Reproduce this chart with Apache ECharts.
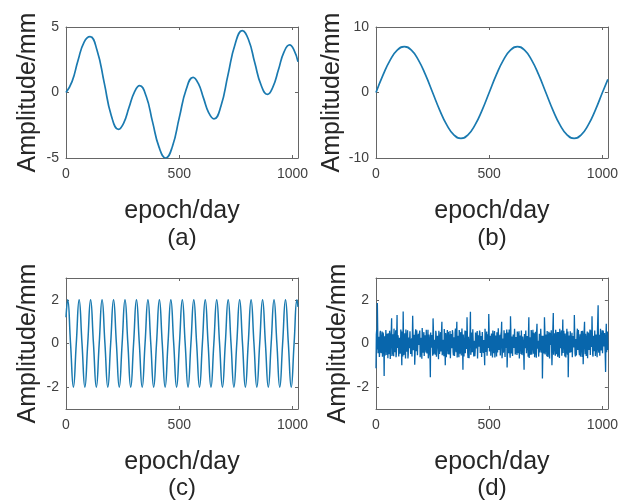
<!DOCTYPE html>
<html>
<head>
<meta charset="utf-8">
<script src="https://cdn.jsdelivr.net/npm/echarts@6/dist/echarts.min.js"></script>
<style>html,body{margin:0;padding:0;background:#fff;}#c{width:621px;height:503px;}</style>
</head>
<body>
<div id="c"></div>
<script>
// ---- data ----
const xTicks = [0, 500, 1000];
const yTicksA = [-5, 0, 5];
const yTicksB = [-10, 0, 10];
const yTicksC = [-2, 0, 2];
const yTicksD = [-2, 0, 2];
const panelLabels = ['(a)', '(b)', '(c)', '(d)'];
const xName = 'epoch/day';
const yName = 'Amplitude/mm';

// (a) combined signal
const daysA = [0, 27, 53, 80, 106, 137, 169, 200, 232, 255, 278, 302, 325, 354, 382, 411, 440, 470, 500, 531, 561, 584, 607, 630, 653, 684, 715, 747, 778, 806, 833, 861, 889, 913, 938, 962, 987, 1005, 1024];
const valsA = [0, 0.85, 2.45, 3.85, 4.26, 3.22, 0.72, -1.77, -2.81, -2.32, -1.15, 0.03, 0.52, -0.29, -2.24, -4.19, -5.0, -4.1, -1.92, 0.26, 1.16, 0.69, -0.43, -1.55, -2.02, -1.03, 1.35, 3.73, 4.72, 4.01, 2.29, 0.57, -0.14, 0.41, 1.75, 3.08, 3.63, 3.3, 2.35];

// (b) long-period sine, sampled every 31.25 days, last at 1024
const stepB = 31.25;
const valsB = [0, 2.68, 4.95, 6.47, 7, 6.47, 4.95, 2.68, 0, -2.68, -4.95, -6.47, -7, -6.47, -4.95, -2.68,
               0, 2.68, 4.95, 6.47, 7, 6.47, 4.95, 2.68, 0, -2.68, -4.95, -6.47, -7, -6.47, -4.95, -2.68, 0];
const lastDayB = 1024, lastValB = 2.0;

// (c) short-period sine: first point at day 0, then every 12.65 days from day 7.4, last at 1024
const firstC = 1.2;
const startC = 7.4, stepC = 12.65;
const valsC = [2,0,-2,0, 2,0,-2,0, 2,0,-2,0, 2,0,-2,0, 2,0,-2,0, 2,0,-2,0, 2,0,-2,0, 2,0,-2,0, 2,0,-2,0, 2,0,-2,0,
               2,0,-2,0, 2,0,-2,0, 2,0,-2,0, 2,0,-2,0, 2,0,-2,0, 2,0,-2,0, 2,0,-2,0, 2,0,-2,0, 2,0,-2,0, 2,0,-2,0, 2];
const lastDayC = 1024, lastValC = 1.68;

// (d) noise: valsD at days 0,3,6,...; valsD2 at days 1.5,4.5,...
const stepD = 3;
const valsD = [
-1.13,0.62,1.85,-0.45,0.31,-0.62,0.48,0.12,-0.38,0.55,-0.21,0.35,-1.49,0.42,-0.15,0.66,-0.52,0.08,0.47,
-0.33,0.58,-0.71,0.24,1.16,-0.44,0.19,-0.58,0.37,-0.09,0.61,-0.47,1.31,-0.26,0.43,-0.65,0.14,-0.36,0.52,
-1.0,0.29,1.46,-0.53,0.18,-0.41,0.64,-0.12,0.39,-0.69,0.27,-0.22,0.56,-0.48,0.11,-0.6,1.27,-0.31,0.2,
-0.97,0.45,-0.16,0.6,-0.54,0.33,-0.07,0.49,-0.63,0.26,-0.34,0.71,-0.42,0.15,-0.57,0.38,-0.19,0.63,-0.46,
0.22,-0.68,0.41,-0.27,-1.55,0.54,-0.13,0.35,1.15,-0.5,0.17,-0.39,0.58,-0.61,0.09,0.44,-0.72,0.3,-0.2,
0.52,-0.43,1.0,-0.35,0.21,-0.58,0.4,-1.0,0.33,-0.11,0.62,-0.49,0.14,-0.3,0.57,-0.66,0.25,-0.08,0.47,
-0.55,0.36,-0.24,0.69,-0.4,1.0,-0.32,0.18,-0.63,0.45,-0.17,0.53,-0.47,0.28,-1.2,0.39,-0.06,0.6,-0.52,
0.23,1.2,-0.44,0.31,-0.67,0.12,1.45,-0.38,0.5,-0.25,0.65,-0.59,0.2,-0.35,0.42,-0.14,0.57,-0.7,0.27,
-0.21,0.48,-0.51,0.34,-0.1,0.61,-0.43,0.16,-1.0,0.4,-0.28,0.55,-0.6,0.24,1.35,-0.37,0.13,-0.56,0.46,
-0.18,0.59,-0.45,0.29,-0.64,0.37,-0.09,0.52,-0.41,0.7,-0.3,0.2,-0.55,0.43,1.0,-0.48,0.26,-0.16,0.58,
-0.62,0.35,-0.23,-1.1,0.5,-0.12,0.64,-0.39,1.25,-0.46,0.19,-0.57,0.41,-0.2,0.67,-0.5,0.3,-0.08,0.55,
-0.44,0.22,-0.69,0.36,-0.15,0.6,-0.53,0.32,0.1,-1.2,0.47,-0.27,0.58,-0.4,0.14,-0.61,1.2,-0.33,0.25,
-0.52,0.44,-0.11,0.63,-0.47,0.21,-0.36,0.54,-0.65,0.9,-0.29,0.17,-0.58,0.4,-0.19,0.66,-0.42,-1.6,0.35,
-0.24,1.2,-0.5,0.28,-0.13,0.57,-0.62,0.33,-0.37,0.49,-0.07,0.61,-1.0,0.23,1.4,-0.45,0.18,-0.56,0.42,
-0.2,0.53,-0.48,0.3,-0.66,0.38,-0.1,0.6,-0.35,1.1,-0.43,0.16,-0.59,0.45,-0.26,0.68,-0.51,-1.55,0.37,
-0.14,0.56,-0.4,0.25,-0.63,0.34,-0.06,1.3,-0.46,0.2,-0.55,0.48,-0.3,0.62,-0.38,0.13,-0.6,0.43,-0.22,
0.58,-0.95,0.31,1.0,-0.49,0.19,-0.34,0.55,-0.61,0.27,-0.12,0.64,-0.44,0.22,1.25,-0.5,0.36,-0.17,0.59,
-0.57,0.41,-0.28,0.52,1.75,-0.42,0.24,-0.64,0.39,-0.09,0.61,-0.47,0.3,-0.2,0.5,-1.3,0.9,-0.35,0.4
];
const valsD2 = [
0.41,-0.28,0.7,-0.52,0.19,-0.36,0.58,-0.44,0.27,-0.61,0.5,-0.17,0.33,-0.55,0.62,-0.3,0.45,-0.68,0.21,
-0.49,0.36,-0.12,0.6,-0.57,0.42,-0.25,0.68,-0.4,0.15,-0.63,0.51,-0.2,0.38,-0.59,0.26,-0.47,0.64,-0.33,
0.55,-0.6,0.31,-0.22,0.47,-0.69,0.18,-0.38,0.61,-0.5,0.34,-0.14,0.57,-0.43,0.24,-0.66,0.49,-0.29,0.4,
-0.53,0.65,-0.35,0.2,-0.58,0.44,-0.1,0.59,-0.46,0.3,-0.7,0.37,-0.24,0.52,-0.62,0.16,-0.41,0.56,-0.27,
0.63,-0.45,0.28,-0.6,0.5,-0.19,0.39,-0.56,0.67,-0.32,0.13,-0.51,0.46,-0.65,0.35,-0.23,0.58,-0.48,0.22,
-0.37,0.6,-0.54,0.17,-0.42,0.66,-0.29,0.48,-0.63,0.25,-0.16,0.54,-0.5,0.32,-0.68,0.43,-0.21,0.61,-0.39,
0.29,-0.57,0.52,-0.13,0.45,-0.64,0.36,-0.26,0.62,-0.47,0.2,-0.55,0.69,-0.31,0.41,-0.6,0.14,-0.44,0.57,
-0.25,0.48,-0.66,0.33,-0.18,0.6,-0.52,0.27,-0.4,0.65,-0.35,0.12,-0.58,0.5,-0.23,0.44,-0.69,0.38,-0.15,
0.59,-0.43,0.24,-0.62,0.53,-0.3,0.16,-0.49,0.67,-0.38,0.28,-0.56,0.42,-0.2,0.63,-0.46,0.35,-0.11,0.51,
-0.64,0.3,-0.36,0.57,-0.24,0.46,-0.6,0.19,-0.5,0.68,-0.28,0.4,-0.15,0.55,-0.67,0.23,-0.42,0.61,-0.33,
0.47,-0.2,0.64,-0.55,0.26,-0.45,0.37,-0.65,0.58,-0.14,0.32,-0.59,0.5,-0.27,0.66,-0.4,0.18,-0.53,0.44,
-0.31,0.56,-0.62,0.21,-0.48,0.69,-0.36,0.15,-0.57,0.43,-0.22,0.6,-0.45,0.34,-0.13,0.52,-0.66,0.29,-0.39,
0.62,-0.5,0.27,-0.17,0.49,-0.63,0.4,-0.32,0.57,-0.24,0.13,-0.6,0.45,-0.41,0.68,-0.19,0.35,-0.55,0.26,
-0.46,0.66,-0.3,0.41,-0.58,0.18,-0.38,0.54,-0.69,0.32,-0.12,0.6,-0.44,0.23,-0.52,0.47,-0.26,0.63,-0.49,
0.2,-0.61,0.53,-0.34,0.67,-0.21,0.39,-0.56,0.28,-0.43,0.58,-0.15,0.46,-0.64,0.31,-0.37,0.55,-0.5,0.17,
-0.42,0.6,-0.27,0.49,-0.65,0.36,-0.18,0.51,-0.59,0.25,-0.47,0.68,-0.33,0.14,-0.54,0.42,-0.23,0.57,-0.62,
0.34,-0.4,0.64,-0.2,0.45,-0.57,0.22,-0.68,0.5,-0.29,0.38,-0.53,0.61,-0.16,0.44,-0.6,0.27,-0.35,0.56,
-0.48,0.19,-0.63,0.52,-0.25,0.4,-0.56,0.67,-0.32,0.24,-0.45,0.59,-0.14,0.48,-0.61,0.33,-0.4,0.55,-0.3
];

// ---- build pairs ----
const dataA = daysA.map((d, i) => [d, valsA[i]]);
const dataB = valsB.map((v, i) => [i * stepB, v]).concat([[lastDayB, lastValB]]);
const dataC = [[0, firstC]].concat(valsC.map((v, i) => [startC + i * stepC, v])).concat([[lastDayC, lastValC]]);
const dataD = [];
valsD.forEach((v, i) => {
  dataD.push([i * stepD, v]);
  dataD.push([i * stepD + stepD / 2, valsD2[i]]);
});

// ---- layout ----
const grids = [
  {left: 66, top: 27, width: 232, height: 131},
  {left: 376, top: 27, width: 232, height: 131},
  {left: 66, top: 278, width: 232, height: 131},
  {left: 376, top: 278, width: 232, height: 131}
];
const yRanges = [[-5, 5, yTicksA], [-10, 10, yTicksB], [-3, 3, yTicksC], [-3, 3, yTicksD]];
const FONT = 'Liberation Sans, Arial, sans-serif';
const axisCol = '#666666';
const plain = v => String(v);

const xAxes = [], yAxes = [];
grids.forEach((g, i) => {
  xAxes.push({
    type: 'value', gridIndex: i, min: 0, max: 1024, position: 'bottom',
    axisLine: {show: true, onZero: false, lineStyle: {color: axisCol, width: 1}},
    axisTick: {show: true, inside: true, length: 3, customValues: xTicks, lineStyle: {color: axisCol}},
    axisLabel: {customValues: xTicks, formatter: plain, margin: 9, fontSize: 14, color: '#404040', fontFamily: FONT},
    splitLine: {show: false},
    name: xName, nameLocation: 'middle', nameGap: 41,
    nameTextStyle: {fontSize: 25, color: '#262626', fontFamily: FONT}
  });
  xAxes.push({
    type: 'value', gridIndex: i, min: 0, max: 1024, position: 'top',
    axisLine: {show: true, onZero: false, lineStyle: {color: axisCol, width: 1}},
    axisTick: {show: true, inside: true, length: 3, customValues: xTicks, lineStyle: {color: axisCol}},
    axisLabel: {show: false}, splitLine: {show: false}
  });
  const r = yRanges[i];
  yAxes.push({
    type: 'value', gridIndex: i, min: r[0], max: r[1], position: 'left',
    axisLine: {show: true, onZero: false, lineStyle: {color: axisCol, width: 1}},
    axisTick: {show: true, inside: true, length: 3, customValues: r[2], lineStyle: {color: axisCol}},
    axisLabel: {customValues: r[2], formatter: plain, margin: 7, fontSize: 14, color: '#404040', fontFamily: FONT},
    splitLine: {show: false},
    name: yName, nameLocation: 'middle', nameGap: 25, nameRotate: 90,
    nameTextStyle: {fontSize: 25, color: '#262626', fontFamily: FONT}
  });
  yAxes.push({
    type: 'value', gridIndex: i, min: r[0], max: r[1], position: 'right',
    axisLine: {show: true, onZero: false, lineStyle: {color: axisCol, width: 1}},
    axisTick: {show: true, inside: true, length: 3, customValues: r[2], lineStyle: {color: axisCol}},
    axisLabel: {show: false}, splitLine: {show: false}
  });
});

const lineCol = '#1a7ab0';
const mk = (idx, data, smooth, width, color) => ({
  type: 'line', xAxisIndex: idx * 2, yAxisIndex: idx * 2, data: data,
  showSymbol: false, smooth: smooth, clip: true, animation: false,
  lineStyle: {color: color, width: width}
});

const labelPos = [[182, 238], [492, 238], [182, 488], [492, 488]];
const option = {
  animation: false,
  grid: grids.map(g => Object.assign({containLabel: false}, g)),
  xAxis: xAxes,
  yAxis: yAxes,
  series: [
    mk(0, dataA, true, 1.7, lineCol),
    mk(1, dataB, true, 1.7, lineCol),
    mk(2, dataC, true, 1.5, lineCol),
    mk(3, dataD, false, 1.3, '#0866ac')
  ],
  graphic: panelLabels.map((t, i) => ({
    type: 'text', x: labelPos[i][0], y: labelPos[i][1],
    style: {text: t, fontSize: 24, fill: '#262626', fontFamily: FONT, align: 'center', verticalAlign: 'middle'}
  }))
};
const chart = echarts.init(document.getElementById('c'), null, {renderer: 'canvas'});
chart.setOption(option);
</script>
</body>
</html>
